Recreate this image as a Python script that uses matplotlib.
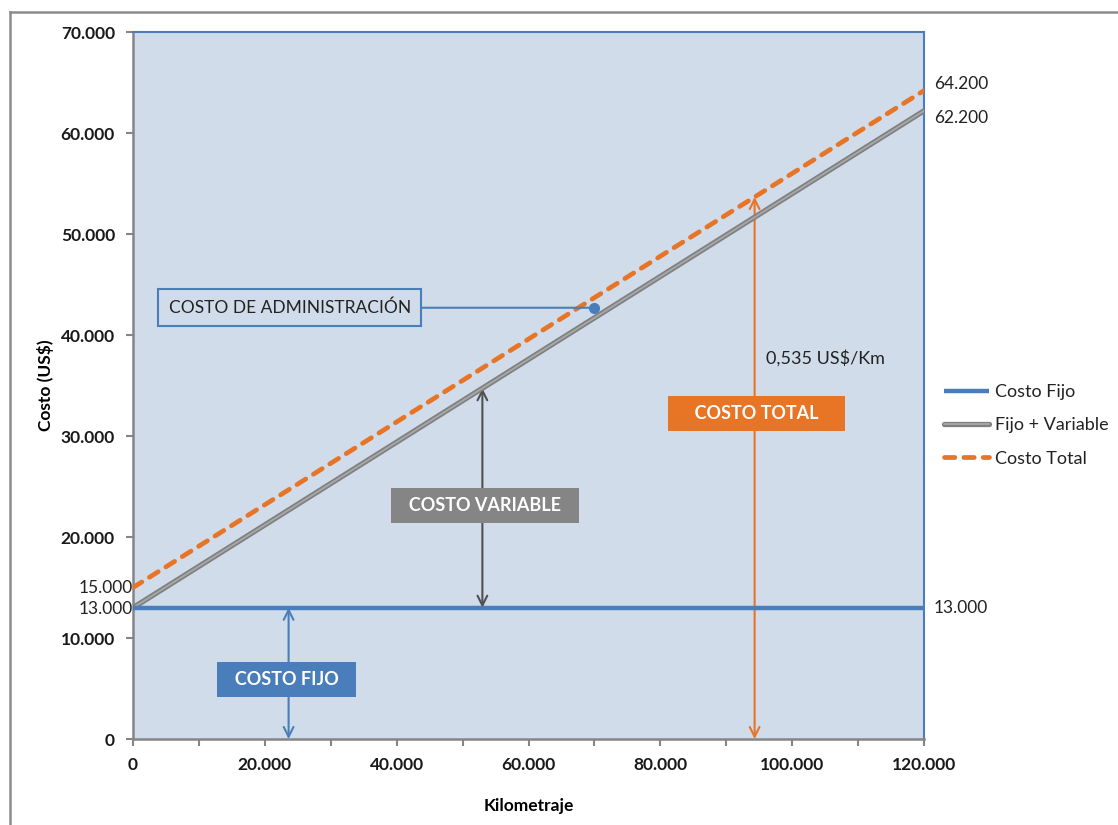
#Costos por kilometraje
import numpy as np
import matplotlib.pyplot as plt
from matplotlib.lines import Line2D
from matplotlib.ticker import FuncFormatter, MultipleLocator
import matplotlib.patheffects as pe

plt.rcParams['font.family'] = ['Lato', 'DejaVu Sans']

#Datos
km = [0, 120000]
costo_fijo = [13000, 13000]
fijo_variable = [13000, 62200]
costo_total = [15000, 64200]
costo_admin = (70000, 42700)
costo_unitario = '0,535 US$/Km'

#Colores
azul = '#4a7ebb'
gris = '#858585'
naranja = '#e87425'
fondo = '#d0dcea'

def miles(v, pos):
    return '{:,.0f}'.format(v).replace(',', '.')

fig = plt.figure(figsize=(11.18, 8.25), dpi=100)
ax = fig.add_axes([0.119, 0.1042, 0.7075, 0.857])
ax.set_facecolor(fondo)

#Series
ax.plot(km, costo_fijo, color=azul, lw=3.2, solid_capstyle='butt', label='Costo Fijo', zorder=4)
ax.plot(km, fijo_variable, color='#a8a8a8', lw=1.3, solid_capstyle='round', label='Fijo + Variable', zorder=3,
        path_effects=[pe.Stroke(linewidth=3.8, foreground='#808080'), pe.Normal()])
ax.plot(km, costo_total, color=naranja, lw=3.4, linestyle=(0, (2.2, 1.9)), dash_capstyle='round',
        label='Costo Total', zorder=5)

ax.set_xlim(0, 120000)
ax.set_ylim(0, 70000)
ax.xaxis.set_major_locator(MultipleLocator(20000))
ax.xaxis.set_minor_locator(MultipleLocator(10000))
ax.yaxis.set_major_locator(MultipleLocator(10000))
ax.xaxis.set_major_formatter(FuncFormatter(miles))
ax.yaxis.set_major_formatter(FuncFormatter(miles))
ax.tick_params(axis='both', which='both', direction='out', color=gris, width=1.5, length=5,
               labelsize=12.5, pad=8)
for lbl in ax.get_xticklabels() + ax.get_yticklabels():
    lbl.set_fontweight('bold')
    lbl.set_color('#1a1a1a')

for s in ['left', 'bottom']:
    ax.spines[s].set_color(gris)
    ax.spines[s].set_linewidth(1.8)
for s in ['top', 'right']:
    ax.spines[s].set_color(azul)
    ax.spines[s].set_linewidth(1.5)
    ax.spines[s].set_linestyle((0, (2, 1)))

ax.set_xlabel('Kilometraje', fontsize=12.5, fontweight='bold', labelpad=18)
ax.set_ylabel('Costo (US$)', fontsize=12.5, fontweight='bold', labelpad=5)

#Flechas de cada componente
def flecha(x, y0, y1, color):
    ax.annotate('', xy=(x, y1), xytext=(x, y0),
                arrowprops=dict(arrowstyle='<->,head_length=0.7,head_width=0.35', color=color, lw=1.5,
                                shrinkA=0, shrinkB=0), zorder=2)

flecha(23600, 0, costo_fijo[0], azul)
x_var = 53000
flecha(x_var, costo_fijo[0], np.interp(x_var, km, fijo_variable), '#505050')
x_tot = 94300
flecha(x_tot, 0, np.interp(x_tot, km, costo_total), naranja)

#Etiquetas en caja
def caja(x, y, texto, color):
    ax.text(x, y, texto, color='white', fontsize=13, fontweight='bold', ha='center', va='center', zorder=6,
            bbox=dict(boxstyle='square,pad=0.5', fc=color, ec='none'))

caja(23300, 5900, '  COSTO FIJO  ', azul)
caja(53400, 23100, '  COSTO VARIABLE  ', gris)
caja(94600, 32200, '    COSTO TOTAL    ', naranja)

#Costo de administracion
ax.plot(*costo_admin, 'o', color=azul, ms=7, zorder=7)
ax.annotate('COSTO DE ADMINISTRACIÓN', xy=costo_admin, xytext=(23800, costo_admin[1]),
            fontsize=12.5, color='#222222', ha='center', va='center', zorder=6,
            bbox=dict(boxstyle='square,pad=0.6', fc=fondo, ec=azul, lw=1.5),
            arrowprops=dict(arrowstyle='-', color=azul, lw=1.5, shrinkA=0, shrinkB=3))

ax.text(96000, 37700, costo_unitario, fontsize=13, color='#222222', ha='left', va='center')

#Valores en los extremos
etq = dict(fontsize=12.5, color='#222222', va='center', clip_on=False)
ax.text(km[0], costo_total[0], miles(costo_total[0], None), ha='right', **etq, zorder=1)
ax.text(km[0], fijo_variable[0] - 100, miles(fijo_variable[0], None), ha='right', **etq, zorder=1)
ax.text(km[1] + 1500, costo_total[1] + 700, miles(costo_total[1], None), ha='left', **etq)
ax.text(km[1] + 1500, fijo_variable[1] - 700, miles(fijo_variable[1], None), ha='left', **etq)
ax.text(km[1] + 1500, costo_fijo[1], miles(costo_fijo[1], None), ha='left', **etq)

#Leyenda
leg = fig.legend(loc='upper left', bbox_to_anchor=(0.838, 0.543), frameon=False, fontsize=13,
                 handlelength=2.5, handletextpad=0.3, labelspacing=0.95, borderaxespad=0)
for t in leg.get_texts():
    t.set_color('#222222')

#Marco exterior
fig.add_artist(Line2D([0.0085, 0.0085], [0, 0.9855], color='#8c8c8c', lw=1.8, transform=fig.transFigure))
fig.add_artist(Line2D([0.0085, 1], [0.9855, 0.9855], color='#8c8c8c', lw=1.8, transform=fig.transFigure))

plt.savefig('out.png', dpi=100)
